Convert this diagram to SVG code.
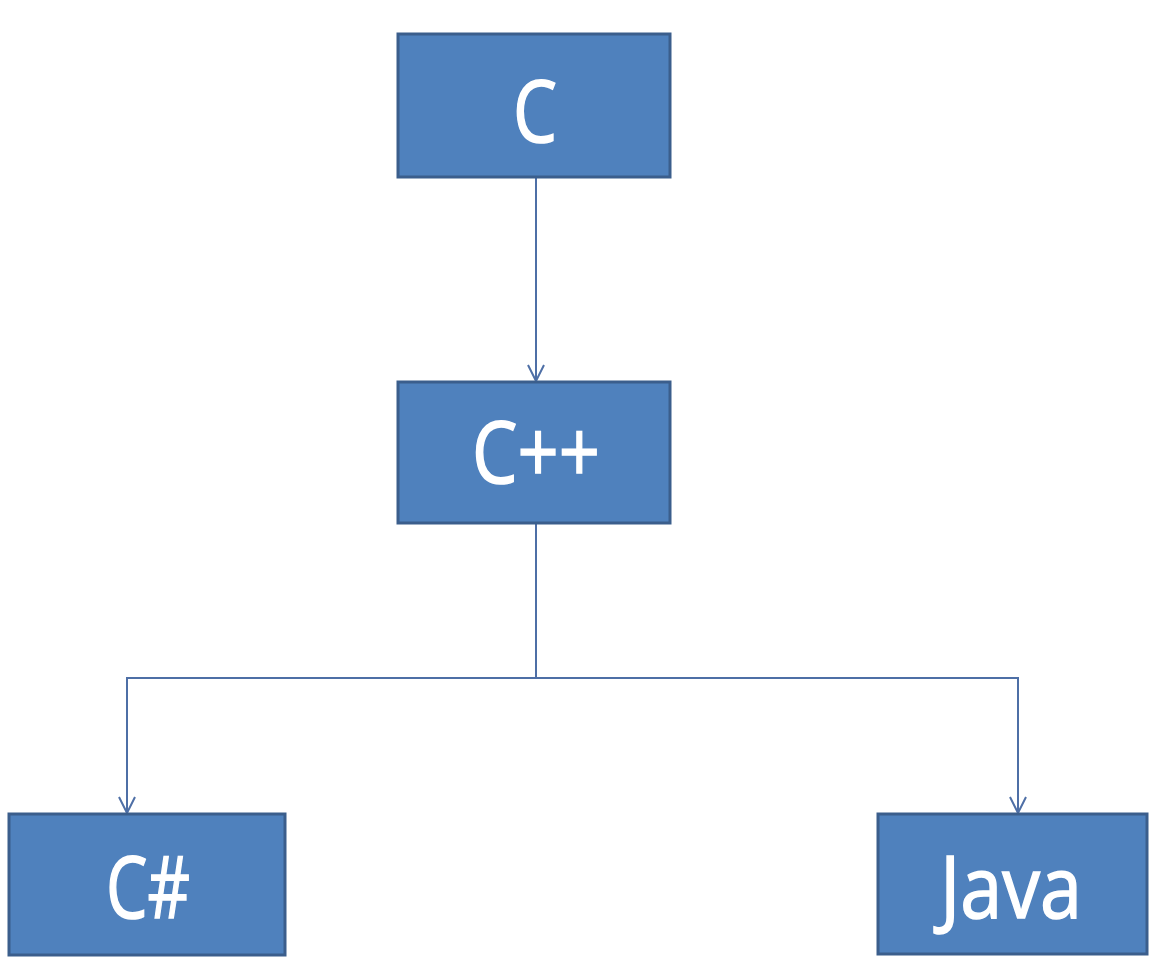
<svg xmlns="http://www.w3.org/2000/svg" width="1150" height="958" viewBox="0 0 1150 958">
  <style>
    .box { fill: #4F81BD; stroke: #3B5E8C; stroke-width: 3; }
    .label { fill: #FFFFFF; stroke: #FFFFFF; stroke-width: 1.5; font-family: "Open Sans", "Liberation Sans", sans-serif; font-size: 86px; text-anchor: middle; }
    .wire { fill: none; stroke: #4E6FA6; stroke-width: 2; }
  </style>
  <defs>
    <marker id="arrow" viewBox="0 0 20 20" refX="18" refY="10" markerWidth="20" markerHeight="20" markerUnits="userSpaceOnUse" orient="auto">
      <path d="M2,2 L18,10 L2,18" fill="none" stroke="#4E6FA6" stroke-width="2"/>
    </marker>
  </defs>
  <rect width="1150" height="958" fill="#FFFFFF"/>

  <g id="connectors">
    <path class="wire" d="M536,177 L536,381" marker-end="url(#arrow)"/>
    <path class="wire" d="M536,523 L536,678 L127,678 L127,813" marker-end="url(#arrow)"/>
    <path class="wire" d="M536,678 L1018,678 L1018,813" marker-end="url(#arrow)"/>
  </g>

  <g id="node-c">
    <rect class="box" x="398" y="34" width="272" height="143"/>
    <text class="label" x="535" y="142" textLength="44" lengthAdjust="spacingAndGlyphs">C</text>
  </g>

  <g id="node-cpp">
    <rect class="box" x="398" y="382" width="272" height="141"/>
    <text class="label" x="536" y="483" textLength="128" lengthAdjust="spacingAndGlyphs">C++</text>
  </g>

  <g id="node-csharp">
    <rect class="box" x="9" y="814" width="276" height="141"/>
    <text class="label" x="148" y="918" textLength="84" lengthAdjust="spacingAndGlyphs">C#</text>
  </g>

  <g id="node-java">
    <rect class="box" x="878" y="814" width="269" height="140"/>
    <text class="label" x="1011" y="918" textLength="142" lengthAdjust="spacingAndGlyphs">Java</text>
  </g>
</svg>
